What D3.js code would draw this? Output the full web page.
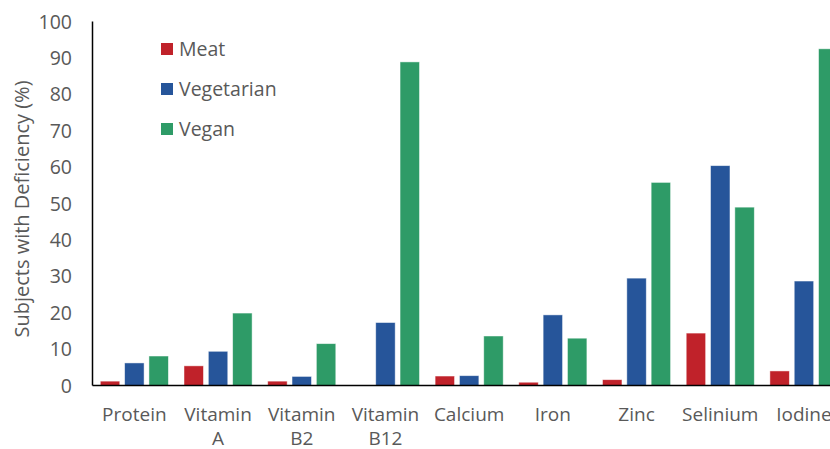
<!DOCTYPE html>
<html lang="en">
<head>
    <meta charset="UTF-8">
    <title>Subjects with Deficiency</title>
    <script src="https://d3js.org/d3.v7.min.js"></script>
    <style>
        body { margin: 0; background: #fff; overflow: hidden; }
        svg { display: block; font-family: 'Open Sans', 'Noto Sans', sans-serif; }
        .lbl { fill: #595959; }
    </style>
</head>
<body>
    <svg id="chart" width="830" height="449"></svg>
    <script>
        const nutrients = [["Protein"], ["Vitamin", "A"], ["Vitamin", "B2"], ["Vitamin", "B12"], ["Calcium"], ["Iron"], ["Zinc"], ["Selinium"], ["Iodine"]];
        const groups = ["Meat", "Vegetarian", "Vegan"];
        const meat = [1.2, 5.4, 1.2, 0, 2.6, 0.9, 1.6, 14.4, 4.0];
        const vegetarian = [6.2, 9.4, 2.5, 17.3, 2.7, 19.4, 29.5, 60.4, 28.7];
        const vegan = [8.1, 19.9, 11.5, 88.9, 13.6, 13.0, 55.8, 49.0, 92.5];
        const yTicks = [0, 10, 20, 30, 40, 50, 60, 70, 80, 90, 100];
        const colors = ["#C0222A", "#26559A", "#2E9B67"];

        const svg = d3.select("#chart");
        const plotLeft = 92.5, plotBottom = 385.5, plotTop = 21.5, band = 83.7;

        const x = d3.scaleBand()
            .domain(d3.range(nutrients.length))
            .range([plotLeft, plotLeft + band * nutrients.length])
            .paddingInner(0).paddingOuter(0);
        const xs = d3.scaleBand()
            .domain(groups)
            .range([7.8, band - 7.8])
            .paddingInner(0.2);
        const y = d3.scaleLinear().domain([0, 100]).range([plotBottom, plotTop]);

        const series = [meat, vegetarian, vegan];

        // bars
        groups.forEach((g, gi) => {
            svg.append("g").selectAll("rect")
                .data(series[gi])
                .enter()
                .append("rect")
                .attr("x", (d, i) => x(i) + xs(g))
                .attr("y", d => y(d))
                .attr("width", xs.bandwidth())
                .attr("height", d => plotBottom - y(d))
                .attr("fill", colors[gi])
                .attr("stroke", "#ffffff")
                .attr("stroke-opacity", 0.6)
                .attr("stroke-width", 0.8);
        });

        // y tick labels
        svg.append("g").selectAll("text")
            .data(yTicks)
            .enter()
            .append("text")
            .attr("class", "lbl")
            .attr("x", 72)
            .attr("y", d => y(d) + 7)
            .attr("text-anchor", "end")
            .style("font-size", "19.5px")
            .text(d => d);

        // axes lines
        svg.append("line")
            .attr("x1", plotLeft).attr("x2", plotLeft)
            .attr("y1", plotTop).attr("y2", plotBottom)
            .attr("stroke", "#000").attr("stroke-width", 1.5);
        svg.append("line")
            .attr("x1", plotLeft).attr("x2", 830)
            .attr("y1", plotBottom).attr("y2", plotBottom)
            .attr("stroke", "#000").attr("stroke-width", 1.5);

        // x labels
        const xl = svg.append("g").selectAll("text")
            .data(nutrients)
            .enter()
            .append("text")
            .attr("class", "lbl")
            .attr("text-anchor", "middle")
            .style("font-size", "19px");
        xl.each(function(lines, i) {
            lines.forEach((t, li) => {
                d3.select(this).append("tspan")
                    .attr("x", x(i) + band / 2)
                    .attr("y", 421 + li * 24)
                    .text(t);
            });
        });

        // y axis title
        svg.append("text")
            .attr("class", "lbl")
            .attr("transform", "translate(29,209) rotate(-90)")
            .attr("text-anchor", "middle")
            .style("font-size", "20px")
            .text("Subjects with Deficiency (%)");

        // legend
        const lg = svg.append("g").selectAll("g")
            .data(groups)
            .enter()
            .append("g")
            .attr("transform", (d, i) => `translate(161,${43 + i * 40})`);
        lg.append("rect")
            .attr("width", 12).attr("height", 12)
            .attr("fill", (d, i) => colors[i]);
        lg.append("text")
            .attr("class", "lbl")
            .attr("x", 18)
            .attr("y", 13)
            .style("font-size", "19.5px")
            .text(d => d);
    </script>
</body>
</html>
